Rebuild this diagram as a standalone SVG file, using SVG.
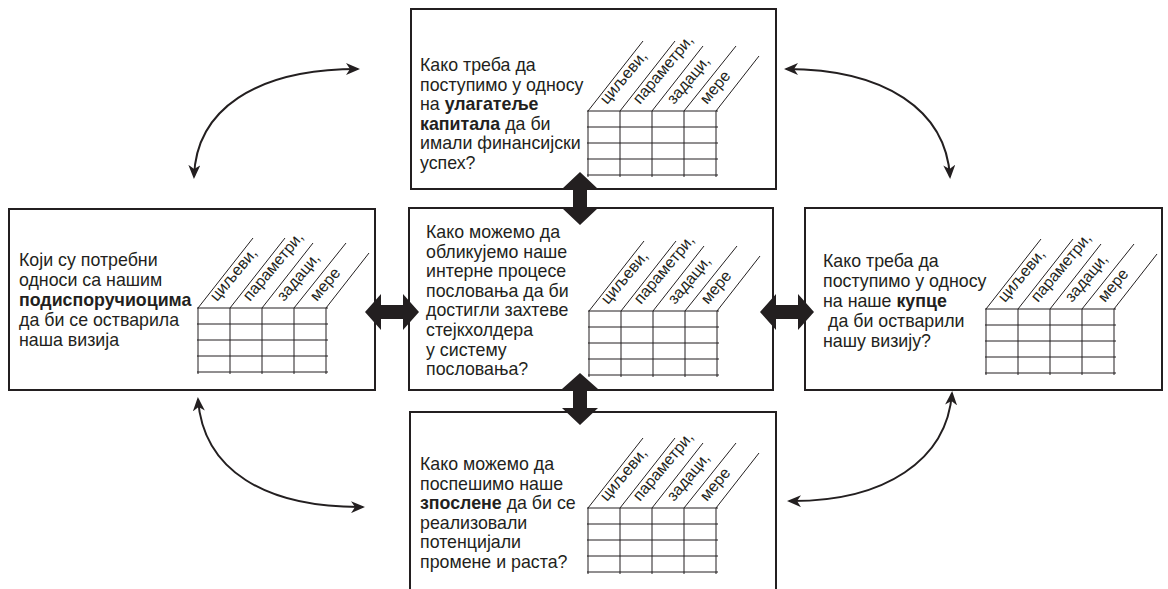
<svg xmlns="http://www.w3.org/2000/svg" xmlns:xlink="http://www.w3.org/1999/xlink" width="1168" height="589" viewBox="0 0 1168 589">
<style>
.box{fill:#fff;stroke:#231f20;stroke-width:2}
.txt{font-family:"Liberation Sans",Arial,sans-serif;font-size:17.8px;fill:#231f20}
.b{font-weight:bold}
.grid{fill:none;stroke:#231f20;stroke-width:1}
.lbl{font-family:"Liberation Sans",Arial,sans-serif;font-size:16px;fill:#231f20}
.curve{fill:none;stroke:#231f20;stroke-width:2}
.block{fill:#231f20;stroke:none}
</style>
<defs>
<marker id="ah" viewBox="0 0 14 12" refX="12" refY="6" markerWidth="14" markerHeight="12" markerUnits="userSpaceOnUse" orient="auto-start-reverse">
<path d="M0,0 L14,6 L0,12 L4,6 z" fill="#231f20"/>
</marker>
<path id="tblgrid" class="grid" d="M-1,0H130M-1,16H130M-1,32H130M-1,48H130M-1,64H130M0,0V66M32,0V66M64,0V66M96,0V66M128,0V66M0,0l55,-70M32,0l55,-70M64,0l51,-65M96,0l52,-65M128,0l43,-55"/>
</defs>

<g id="node-top">
<rect class="box" x="411" y="9" width="365" height="180"/>
<text class="txt" x="420" y="71"><tspan x="420">Како треба да</tspan><tspan x="420" dy="19.5">поступимо у односу</tspan><tspan x="420" dy="19.5">на <tspan class="b">улагатеље</tspan></tspan><tspan x="420" dy="19.5"><tspan class="b">капитала</tspan> да би</tspan><tspan x="420" dy="19.5">имали финансијски</tspan><tspan x="420" dy="19.5">успех?</tspan></text>
<g transform="translate(588,111)">
<use href="#tblgrid"/>
<text class="lbl" transform="translate(19,-6) rotate(-50)">циљеви,</text>
<text class="lbl" transform="translate(52,-6) rotate(-50)">параметри,</text>
<text class="lbl" transform="translate(86,-6) rotate(-50)">задаци,</text>
<text class="lbl" transform="translate(119,-6) rotate(-50)">мере</text>
</g>
</g>

<g id="node-left">
<rect class="box" x="9" y="209" width="366" height="181"/>
<text class="txt" x="19" y="266"><tspan x="19">Који су потребни</tspan><tspan x="19" dy="20">односи са нашим</tspan><tspan x="19" dy="20" class="b">подиспоручиоцима</tspan><tspan x="19" dy="20">да би се остварила</tspan><tspan x="19" dy="20">наша визија</tspan></text>
<g transform="translate(198,308)">
<use href="#tblgrid"/>
<text class="lbl" transform="translate(19,-6) rotate(-50)">циљеви,</text>
<text class="lbl" transform="translate(52,-6) rotate(-50)">параметри,</text>
<text class="lbl" transform="translate(86,-6) rotate(-50)">задаци,</text>
<text class="lbl" transform="translate(119,-6) rotate(-50)">мере</text>
</g>
</g>

<g id="node-center">
<rect class="box" x="409" y="208" width="364" height="182"/>
<text class="txt" x="426" y="238"><tspan x="426">Како можемо да</tspan><tspan x="426" dy="19.6">обликујемо наше</tspan><tspan x="426" dy="19.6">интерне процесе</tspan><tspan x="426" dy="19.6">пословања да би</tspan><tspan x="426" dy="19.6">достигли захтеве</tspan><tspan x="426" dy="19.6">стејкхолдера</tspan><tspan x="426" dy="19.6">у систему</tspan><tspan x="426" dy="19.6">пословања?</tspan></text>
<g transform="translate(589,311)">
<use href="#tblgrid"/>
<text class="lbl" transform="translate(19,-6) rotate(-50)">циљеви,</text>
<text class="lbl" transform="translate(52,-6) rotate(-50)">параметри,</text>
<text class="lbl" transform="translate(86,-6) rotate(-50)">задаци,</text>
<text class="lbl" transform="translate(119,-6) rotate(-50)">мере</text>
</g>
</g>

<g id="node-right">
<rect class="box" x="805" y="208" width="357" height="182"/>
<text class="txt" x="823" y="267"><tspan x="823">Како треба да</tspan><tspan x="823" dy="20">поступимо у односу</tspan><tspan x="823" dy="20">на наше <tspan class="b">купце</tspan></tspan><tspan x="828" dy="20">да би остварили</tspan><tspan x="823" dy="20">нашу визију?</tspan></text>
<g transform="translate(986,309)">
<use href="#tblgrid"/>
<text class="lbl" transform="translate(19,-6) rotate(-50)">циљеви,</text>
<text class="lbl" transform="translate(52,-6) rotate(-50)">параметри,</text>
<text class="lbl" transform="translate(86,-6) rotate(-50)">задаци,</text>
<text class="lbl" transform="translate(119,-6) rotate(-50)">мере</text>
</g>
</g>

<g id="node-bottom">
<rect class="box" x="410" y="412" width="366" height="200"/>
<text class="txt" x="420" y="470"><tspan x="420">Како можемо да</tspan><tspan x="420" dy="19.6">поспешимо наше</tspan><tspan x="420" dy="19.6"><tspan class="b">зпослене</tspan> да би се</tspan><tspan x="420" dy="19.6">реализовали</tspan><tspan x="420" dy="19.6">потенцијали</tspan><tspan x="420" dy="19.6">промене и раста?</tspan></text>
<g transform="translate(588,508)">
<use href="#tblgrid"/>
<text class="lbl" transform="translate(19,-6) rotate(-50)">циљеви,</text>
<text class="lbl" transform="translate(52,-6) rotate(-50)">параметри,</text>
<text class="lbl" transform="translate(86,-6) rotate(-50)">задаци,</text>
<text class="lbl" transform="translate(119,-6) rotate(-50)">мере</text>
</g>
</g>

<g id="connectors">
<path class="curve" d="M194,177 C196,110 255,69 358,69" marker-start="url(#ah)" marker-end="url(#ah)"/>
<path class="curve" d="M786,69 C885,69 946,110 950,177" marker-start="url(#ah)" marker-end="url(#ah)"/>
<path class="curve" d="M198,399 C203,470 265,508 363,507" marker-start="url(#ah)" marker-end="url(#ah)"/>
<path class="curve" d="M952,393 C947,460 885,502 789,501" marker-start="url(#ah)" marker-end="url(#ah)"/>
<polygon class="block" points="580,172 598,189 587,189 587,208 598,208 580,225 562,208 573,208 573,189 562,189"/>
<polygon class="block" points="580,373 598,389 587,389 587,408 598,408 580,425 562,408 573,408 573,389 562,389"/>
<polygon class="block" points="365,312 381,294 381,305 403,305 403,294 419,312 403,330 403,319 381,319 381,330"/>
<polygon class="block" points="760,312 776,294 776,305 798,305 798,294 814,312 798,330 798,319 776,319 776,330"/>
</g>
</svg>
